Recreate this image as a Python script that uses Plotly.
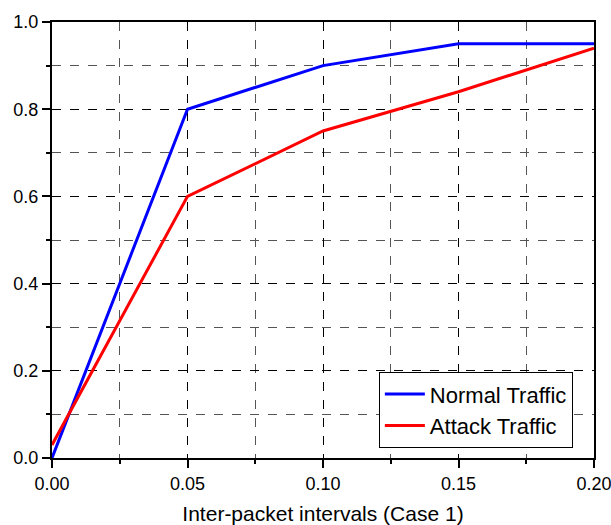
import plotly.graph_objects as go

x_vals = [0.0, 0.05, 0.10, 0.15, 0.20]
normal = [0.0, 0.80, 0.90, 0.95, 0.95]
attack = [0.03, 0.60, 0.75, 0.84, 0.94]
series_names = ["Normal Traffic", "Attack Traffic"]
x_tick_vals = [0.0, 0.05, 0.10, 0.15, 0.20]
x_tick_text = ["0.00", "0.05", "0.10", "0.15", "0.20"]
y_tick_vals = [0.0, 0.2, 0.4, 0.6, 0.8, 1.0]
y_tick_text = ["0.0", "0.2", "0.4", "0.6", "0.8", "1.0"]

FONT = "Liberation Sans, Arial, sans-serif"

fig = go.Figure()
fig.add_trace(go.Scatter(x=x_vals, y=normal, mode="lines", name=series_names[0],
                         line=dict(color="#0000FF", width=3)))
fig.add_trace(go.Scatter(x=x_vals, y=attack, mode="lines", name=series_names[1],
                         line=dict(color="#FF0000", width=3)))

fig.update_layout(
    width=611, height=525,
    margin=dict(l=52, r=17, t=22, b=67, autoexpand=False),
    plot_bgcolor="white", paper_bgcolor="white",
    font=dict(family=FONT, color="black", size=18),
    showlegend=True,
    legend=dict(x=0.961, y=0.197, xanchor="right", yanchor="top",
                bgcolor="white", bordercolor="black", borderwidth=1,
                font=dict(size=22, family=FONT), tracegroupgap=0,
                itemwidth=40),
)
fig.update_xaxes(
    range=[0, 0.2], tickvals=x_tick_vals, ticktext=x_tick_text,
    showline=True, linecolor="black", linewidth=2, mirror=True,
    ticks="outside", ticklen=8, tickwidth=1.5, tickcolor="black",
    showgrid=True, gridcolor="black", griddash="dash", gridwidth=1,
    zeroline=False, automargin=False, ticklabeloverflow="allow",
    minor=dict(dtick=0.025, tick0=0, ticks="outside", ticklen=4, tickcolor="black",
               showgrid=True, gridcolor="#555555", griddash="dash", gridwidth=1),
    title=dict(text="Inter-packet intervals (Case 1)", font=dict(size=21, family=FONT), standoff=14),
    tickfont=dict(size=18),
)
fig.update_yaxes(
    range=[0, 1.0], tickvals=y_tick_vals, ticktext=y_tick_text,
    showline=True, linecolor="black", linewidth=2, mirror=True,
    ticks="outside", ticklen=8, tickwidth=1.5, tickcolor="black",
    showgrid=True, gridcolor="black", griddash="dash", gridwidth=1,
    zeroline=False, automargin=False,
    minor=dict(dtick=0.1, tick0=0, ticks="outside", ticklen=4, tickcolor="black",
               showgrid=True, gridcolor="#555555", griddash="dash", gridwidth=1),
    tickfont=dict(size=18),
)

fig.write_html("out.html")
